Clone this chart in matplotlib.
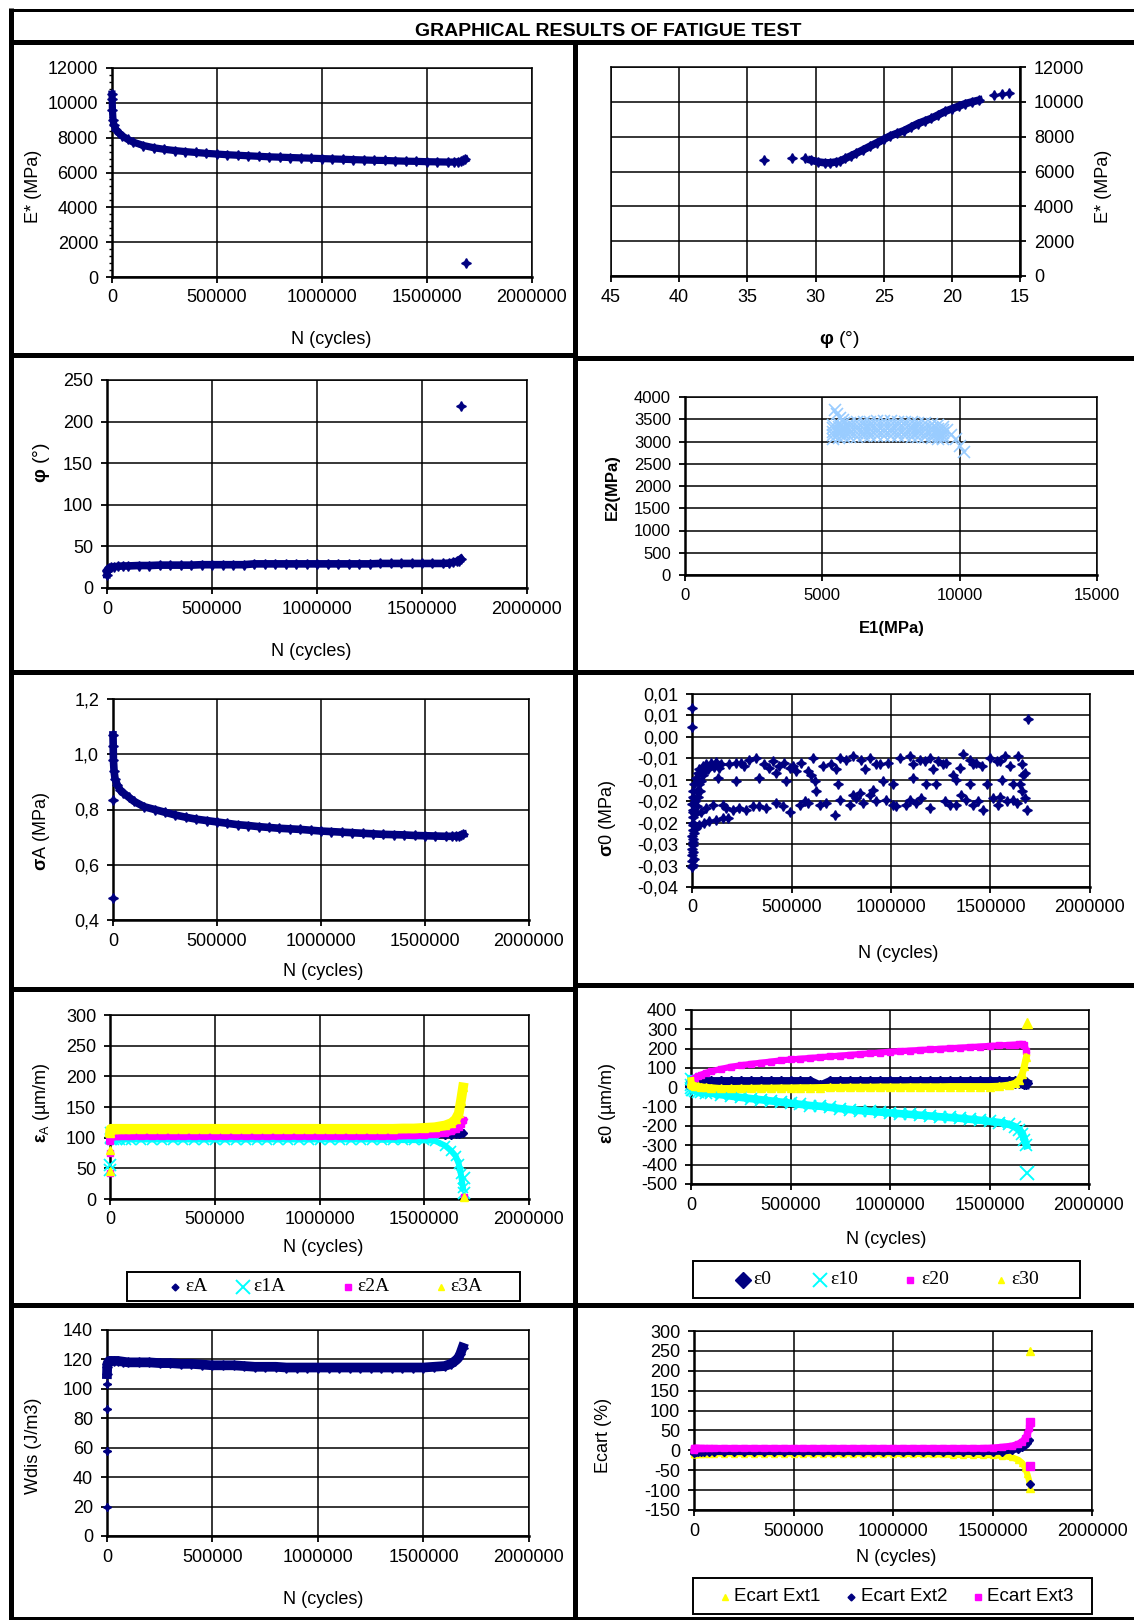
import matplotlib
matplotlib.use('Agg')
import matplotlib.pyplot as plt
from matplotlib.lines import Line2D
from matplotlib.patches import Rectangle
from matplotlib.ticker import AutoMinorLocator

plt.rcParams['font.family'] = ['Liberation Sans', 'DejaVu Sans']
plt.rcParams['mathtext.fontset'] = 'custom'
plt.rcParams['mathtext.rm'] = 'Liberation Sans'
plt.rcParams['mathtext.bf'] = 'Liberation Sans:bold'
plt.rcParams['mathtext.it'] = 'Liberation Sans:italic'
plt.rcParams['mathtext.sf'] = 'Liberation Sans'

# ------------------------------------------------------------------ data
title = "GRAPHICAL RESULTS OF FATIGUE TEST"

N_cycles = [0, 1000, 2000, 5000, 10000, 20000, 35000, 50000, 75000, 100000,
            150000, 200000, 250000, 300000, 350000, 400000, 450000, 500000, 550000, 600000,
            650000, 700000, 750000, 800000, 850000, 900000, 950000, 1000000, 1050000, 1100000,
            1150000, 1200000, 1250000, 1300000, 1350000, 1400000, 1450000, 1500000, 1550000, 1600000,
            1630000, 1650000, 1665000, 1675000, 1685000]

N_ticks = [0, 500000, 1000000, 1500000, 2000000]
N_tick_labels = ["0", "500000", "1000000", "1500000", "2000000"]

# panel 1 : E* vs N
E_star = [10500, 10200, 9600, 9000, 8700, 8450, 8250, 8100, 7900, 7750,
          7550, 7420, 7330, 7260, 7200, 7150, 7100, 7060, 7020, 6990,
          6960, 6930, 6900, 6880, 6860, 6840, 6820, 6800, 6780, 6760,
          6740, 6720, 6700, 6690, 6670, 6650, 6640, 6620, 6610, 6600,
          6600, 6620, 6650, 6700, 6750]
E_star_out_N = [1688000]
E_star_out = [800]
E_ticks = [0, 2000, 4000, 6000, 8000, 10000, 12000]

# panel 2 : E* vs phi
phi_band = [30.3, 29.8, 29.3, 28.9, 28.5, 28.2, 27.8, 27.4, 27.0, 26.5, 26.0, 25.5, 25.0, 24.5,
            24.0, 23.5, 23.0, 22.5, 22.0, 21.5, 21.0, 20.5, 20.0, 19.5, 19.0, 18.5, 18.0]
E_phi_band = [6650, 6550, 6500, 6500, 6550, 6600, 6750, 6900, 7050, 7250, 7450, 7650, 7850, 8050,
              8200, 8350, 8550, 8750, 8900, 9050, 9250, 9450, 9600, 9750, 9900, 10000, 10100]
phi_pts = [33.8, 31.7, 30.8, 16.9, 16.3, 15.8]
E_phi_pts = [6650, 6750, 6750, 10400, 10450, 10500]
phi_ticks = [45, 40, 35, 30, 25, 20, 15]

# panel 3 : phi vs N
phi_deg = [16, 20, 22, 23, 24, 25, 25.5, 26, 26.5, 26.5,
           27, 27, 27.5, 27.5, 27.5, 27.5, 28, 28, 28, 28,
           28, 29, 29, 29, 29, 29, 29, 29, 29, 29,
           29, 29, 29, 29.5, 29.5, 29.5, 29.5, 29.5, 29.5, 29.5,
           30, 31, 32, 33, 35]
phi_out_N = [1685000]
phi_out = [219]
phi_y_ticks = [0, 50, 100, 150, 200, 250]

# panel 4 : E2 vs E1
E1_grid = [5400, 5600, 5800, 6000, 6250, 6500, 6750, 7000, 7250, 7500, 7750, 8000, 8250, 8500, 8750, 9000, 9200, 9400]
E2_upper = [3380, 3400, 3410, 3420, 3430, 3440, 3440, 3450, 3450, 3450, 3440, 3440, 3430, 3420, 3410, 3390, 3370, 3330]
E2_mid_hi = [3300, 3320, 3330, 3340, 3350, 3360, 3360, 3370, 3370, 3370, 3360, 3360, 3350, 3340, 3330, 3310, 3290, 3260]
E2_mid = [3220, 3240, 3250, 3260, 3270, 3280, 3280, 3290, 3290, 3290, 3280, 3280, 3270, 3260, 3250, 3230, 3210, 3190]
E2_mid_lo = [3140, 3160, 3170, 3180, 3190, 3200, 3200, 3210, 3210, 3210, 3200, 3200, 3190, 3180, 3170, 3150, 3130, 3120]
E2_lower = [3060, 3080, 3090, 3100, 3110, 3120, 3120, 3130, 3130, 3130, 3120, 3120, 3110, 3100, 3090, 3070, 3060, 3050]
E1_edge = [5450, 5550, 5650, 5750, 9550, 9700, 9850, 10000, 10150]
E2_edge = [3700, 3620, 3520, 3480, 3250, 3150, 3050, 2900, 2770]
E1_ticks = [0, 5000, 10000, 15000]
E2_ticks = [0, 500, 1000, 1500, 2000, 2500, 3000, 3500, 4000]

# panel 5 : sigma A vs N
sigma_A = [1.07, 1.03, 0.98, 0.94, 0.91, 0.89, 0.87, 0.86, 0.845, 0.83,
           0.81, 0.80, 0.79, 0.78, 0.772, 0.765, 0.76, 0.755, 0.75, 0.745,
           0.742, 0.738, 0.735, 0.732, 0.73, 0.728, 0.725, 0.722, 0.72, 0.718,
           0.716, 0.714, 0.712, 0.71, 0.709, 0.708, 0.706, 0.705, 0.704, 0.703,
           0.703, 0.704, 0.705, 0.708, 0.71]
sigma_A_out_N = [0, 0]
sigma_A_out = [0.48, 0.835]
sA_ticks = [0.4, 0.6, 0.8, 1.0, 1.2]
sA_tick_labels = ["0,4", "0,6", "0,8", "1,0", "1,2"]

# panel 6 : sigma 0 vs N (scatter)
s0_out_N = [0, 0, 1690000]
s0_out = [0.0067, 0.0024, 0.0041]
s0_hook_N = [0, 1000, 2000, 1000, 3000, 2000, 4000, 3000, 5000, 4000, 2000, 5000, 3000,
             3000, 10000, 6700, 3000, 3000, 6700, 6700, 11700, 16800, 11700, 23500, 20100, 33600, 28500,
             36900, 45300, 53700, 70500, 95600, 120800, 146000, 129200, 20100, 36900, 62100, 87300,
             120800, 154400, 179500, 45300, 70500, 104000,
             8000, 15000, 25000, 30000, 40000, 55000, 65000, 80000, 110000, 135000]
s0_hook = [-0.0303, -0.0290, -0.0275, -0.0262, -0.0246, -0.0231, -0.0216, -0.0201, -0.0186, -0.0171, -0.0156, -0.0141, -0.0126,
           -0.0299, -0.0284, -0.0252, -0.0268, -0.0237, -0.0205, -0.0174, -0.0143, -0.0150, -0.0111, -0.0127, -0.0096, -0.0111, -0.0084,
           -0.0076, -0.0104, -0.0068, -0.0063, -0.0060, -0.0058, -0.0064, -0.0096, -0.0213, -0.0205, -0.0201, -0.0197,
           -0.0193, -0.0190, -0.0190, -0.0174, -0.0166, -0.0158,
           -0.0225, -0.0180, -0.0160, -0.0140, -0.0125, -0.0090, -0.0080, -0.0075, -0.0070, -0.0072]
s0_upper_N = [187900, 246700, 288600, 322200, 364100, 406000, 439600, 464800, 506700, 548700,
              582200, 607400, 657700, 699700, 741600, 775200, 808800, 850700, 892600, 943000,
              984900, 1043600, 1094000, 1144400, 1194700, 1236600, 1278600, 1312100, 1362500, 1396000,
              1429600, 1496700, 1547100, 1572200, 1639300, 1656100, 1672900,
              221500, 263400, 389300, 490000, 523500, 599000, 724900, 867500, 926200, 1110800,
              1169500, 1211400, 1261800, 1345700, 1412800, 1454800, 1530300, 1597400]
s0_upper = [-0.0064, -0.0060, -0.0053, -0.0049, -0.0064, -0.0057, -0.0068, -0.0060, -0.0068, -0.0060,
            -0.0080, -0.0049, -0.0068, -0.0064, -0.0049, -0.0053, -0.0045, -0.0053, -0.0049, -0.0064,
            -0.0060, -0.0049, -0.0045, -0.0053, -0.0049, -0.0057, -0.0060, -0.0088, -0.0041, -0.0053,
            -0.0060, -0.0049, -0.0057, -0.0045, -0.0045, -0.0064, -0.0084,
            -0.0060, -0.0068, -0.0072, -0.0072, -0.0080, -0.0088, -0.0076, -0.0076, -0.0064, -0.0064,
            -0.0057, -0.0076, -0.0064, -0.0072, -0.0064, -0.0068, -0.0057, -0.0068]
s0_mid_N = [221500, 338900, 422800, 473200, 615800, 624200, 733300, 808800, 842300, 909400,
            959800, 1010100, 1110800, 1177900, 1228200, 1328900, 1396000, 1479900, 1555400, 1614200,
            1647700, 1664500]
s0_mid = [-0.0104, -0.0096, -0.0084, -0.0104, -0.0104, -0.0127, -0.0111, -0.0135, -0.0131, -0.0123,
          -0.0104, -0.0111, -0.0096, -0.0111, -0.0111, -0.0100, -0.0111, -0.0111, -0.0100, -0.0111,
          -0.0111, -0.0088]
s0_lower_N = [154400, 204700, 238300, 271800, 305400, 372500, 422800, 490000, 540300, 582200,
              641000, 716500, 741600, 792000, 859100, 926200, 976500, 1026900, 1077200, 1127600,
              1194700, 1270200, 1328900, 1379200, 1412800, 1463200, 1513500, 1538700, 1580600, 1614200,
              1681300, 1672900,
              171100, 338900, 456400, 565500, 674500, 825600, 892600, 1010100, 1094000, 1152800,
              1295400, 1354100, 1438000, 1547100, 1630900, 1656100]
s0_lower = [-0.0158, -0.0170, -0.0166, -0.0170, -0.0162, -0.0166, -0.0154, -0.0174, -0.0158, -0.0154,
            -0.0158, -0.0182, -0.0147, -0.0158, -0.0154, -0.0150, -0.0147, -0.0162, -0.0158, -0.0154,
            -0.0166, -0.0150, -0.0158, -0.0147, -0.0158, -0.0170, -0.0143, -0.0158, -0.0150, -0.0147,
            -0.0170, -0.0143,
            -0.0166, -0.0162, -0.0162, -0.0150, -0.0154, -0.0143, -0.0135, -0.0158, -0.0147, -0.0143,
            -0.0158, -0.0135, -0.0150, -0.0139, -0.0154, -0.0127]
s0_ticks = [-0.035, -0.03, -0.025, -0.02, -0.015, -0.01, -0.005, 0.0, 0.005, 0.01]
s0_tick_labels = ["-0,04", "-0,03", "-0,03", "-0,02", "-0,02", "-0,01", "-0,01", "0,00", "0,01", "0,01"]

# panel 7 : strain amplitudes
eps_A = [100, 102, 103, 103, 103, 103, 103, 103, 103, 103,
         103, 103, 103, 103, 103, 103, 103, 103, 103, 103,
         103, 103, 103, 103, 103, 103, 103, 103, 103, 103,
         103, 103, 103, 103, 103, 103, 103, 103.5, 104, 104,
         105, 106, 106, 107, 108]
eps_1A = [110, 100, 98, 97.5, 97, 97, 97, 97, 97, 97,
          97, 97, 97, 97, 97, 97, 97, 97, 97, 97,
          97, 97, 97, 97, 97, 97, 97, 97, 97, 97,
          97, 97, 97, 96.5, 96.5, 96, 96, 95.5, 95, 87,
          78, 70, 57, 40, 18]
eps_2A = [95, 101, 103, 103, 103, 103, 103, 103, 103, 103,
          103, 103, 103, 103, 103, 103, 103, 103, 103, 103,
          103, 103, 103, 103, 103, 103, 103, 103, 103, 103,
          103, 103, 103, 103, 103, 104, 104, 105, 106, 108,
          111, 114, 118, 122, 128]
eps_3A = [108, 112, 114, 114.5, 114.5, 114.5, 114.5, 114.5, 114.5, 114.5,
          114.5, 114.5, 114.5, 114.5, 114.5, 114.5, 114.5, 114.5, 114.5, 114.5,
          114.5, 114.5, 114.5, 114.5, 114.5, 114.5, 114.5, 114.5, 114.5, 114.5,
          114.5, 114.5, 114.5, 114.5, 114.5, 115, 115, 116, 117, 120,
          124, 130, 140, 160, 182]
eps_1A_out_N = [0, 0, 1688000, 1690000]
eps_1A_out = [55, 47, 35, 10]
eps_2A_out_N = [0, 0, 1690000]
eps_2A_out = [75, 42, 3]
eps_3A_out_N = [0, 0, 1690000]
eps_3A_out = [80, 45, 3]
epsA_ticks = [0, 50, 100, 150, 200, 250, 300]
legend7_labels = ["εA", "ε1A", "ε2A", "ε3A"]

# panel 8 : mean strains
eps_0 = [10, 20, 25, 28, 28, 28, 28, 28, 28, 28,
         28, 28, 28, 28, 28, 28, 28, 28, 28, 28,
         5, 28, 28, 28, 28, 28, 28, 28, 28, 28,
         28, 28, 28, 28, 28, 28, 28, 28, 28, 28,
         28, 28, 26, 24, 20]
eps_10 = [45, 10, -5, -12, -15, -18, -22, -25, -28, -30,
          -38, -45, -52, -58, -64, -70, -76, -82, -88, -94,
          -98, -104, -110, -115, -120, -124, -128, -132, -136, -140,
          -144, -148, -152, -156, -160, -165, -170, -176, -182, -192,
          -205, -220, -240, -270, -300]
eps_20 = [10, 20, 28, 35, 42, 50, 58, 65, 75, 82,
          95, 106, 114, 121, 127, 133, 139, 144, 148, 152,
          156, 160, 164, 168, 172, 176, 180, 184, 187, 190,
          193, 196, 199, 202, 205, 208, 211, 214, 217, 219,
          221, 222, 223, 221, 190]
eps_30 = [35, 25, 20, 15, 10, 8, 5, 3, 0, -2,
          -6, -6, -5, -5, -4, -4, -3, -3, -2, -2,
          -1, 0, 0, 1, 1, 1, 2, 2, 2, 3,
          3, 3, 3, 4, 4, 4, 4, 4, 6, 12,
          22, 40, 70, 110, 155]
eps_10_out_N = [1688000]
eps_10_out = [-445]
eps_30_out_N = [1688000]
eps_30_out = [335]
eps0_ticks = [-500, -400, -300, -200, -100, 0, 100, 200, 300, 400]
legend8_labels = ["ε0", "ε10", "ε20", "ε30"]

# panel 9 : dissipated energy
W_dis = [110, 115, 117, 118, 119, 119, 119, 119, 118.5, 118,
         118, 118, 117.5, 117.5, 117, 117, 116.5, 116, 116, 116,
         115.5, 115, 115, 115, 114.5, 114.5, 114.5, 114.5, 114.5, 114.5,
         114.5, 114.5, 114.5, 114.5, 114.5, 114.5, 114.5, 114.5, 115, 115.5,
         117, 119, 121, 124, 128]
W_out_N = [0, 0, 0, 0]
W_out = [20, 58, 86, 103]
W_ticks = [0, 20, 40, 60, 80, 100, 120, 140]

# panel 10 : Ecart
ecart_1 = [-8, -8, -8, -8, -8, -8, -8, -8, -8, -8,
           -8, -8, -8, -8, -8, -8, -8, -8, -8, -8,
           -8, -8, -8, -8, -8, -8, -8, -8, -9, -9,
           -9, -10, -10, -11, -11, -11, -12, -12, -14, -18,
           -24, -32, -45, -60, -78]
ecart_2 = [-6, -4, -4, -4, -4, -4, -4, -4, -4, -4,
           -4, -4, -4, -4, -4, -4, -4, -4, -4, -4,
           -4, -4, -4, -4, -4, -4, -4, -4, -4, -4,
           -4, -4, -4, -4, -4, -4, -4, -4, -3, 0,
           4, 8, 13, 18, 25]
ecart_3 = [0, 4, 5, 5, 5, 5, 5, 5, 5, 5,
           5, 5, 5, 5, 5, 5, 5, 5, 5, 5,
           5, 5, 5, 5, 5, 5, 5, 5, 5, 5,
           5, 5, 5, 5, 5, 5, 5, 6, 8, 11,
           16, 22, 30, 40, 55]
ecart_1_out_N = [1688000, 1690000]
ecart_1_out = [-95, 250]
ecart_2_out_N = [1688000]
ecart_2_out = [-85]
ecart_3_out_N = [1688000, 1688000]
ecart_3_out = [70, -40]
ecart_ticks = [-150, -100, -50, 0, 50, 100, 150, 200, 250, 300]
legend10_labels = ["Ecart Ext1", "Ecart Ext2", "Ecart Ext3"]

# ------------------------------------------------------------------ styling
NAVY = '#000080'
CYAN = '#00FFFF'
MAGENTA = '#FF00FF'
YELLOW = '#FFFF00'
LIGHTBLUE = '#99CCFF'
STAR = (4, 1, 0)

W, H = 1134, 1620
fig = plt.figure(figsize=(W / 100, H / 100), dpi=100)
fig.patch.set_facecolor('white')


def add_ax(l, t, r, b):
    return fig.add_axes([l / W, 1 - b / H, (r - l) / W, (b - t) / H])


def style(ax, xlim, xt, xl, ylim, yt, yl, size=13, right=False):
    ax.set_xlim(*xlim)
    ax.set_ylim(*ylim)
    ax.set_xticks(xt, labels=xl)
    ax.set_yticks(yt, labels=yl)
    ax.grid(True, which='major', color='black', lw=1.1)
    ax.set_axisbelow(True)
    for k, s in ax.spines.items():
        s.set_color('black')
        s.set_linewidth(1.1)
    ax.spines['bottom'].set_linewidth(1.8)
    if right:
        ax.yaxis.tick_right()
        ax.spines['right'].set_linewidth(1.8)
    else:
        ax.spines['left'].set_linewidth(1.8)
    ax.tick_params(which='major', direction='out', length=4, width=1.3,
                   labelsize=size, colors='black')
    ax.tick_params(axis='x', pad=5)
    ax.tick_params(axis='y', pad=6)


def band(ax, x, y, color, lw, marker, ms, z, mew=1.0):
    ax.plot(x, y, color=color, lw=lw, marker=marker, ms=ms, mfc=color, mec=color,
            mew=mew, zorder=z, clip_on=False, solid_joinstyle='round')


def pts(ax, x, y, color, marker, ms, z, mew=1.0):
    ax.plot(x, y, ls='none', marker=marker, ms=ms, mfc=color, mec=color,
            mew=mew, zorder=z, clip_on=False)


def ftext(x, y, s, size=13, rot=0, **kw):
    fig.text(x / W, 1 - y / H, s, ha='center', va='center', fontsize=size,
             rotation=rot, **kw)


def fline(x0, y0, x1, y1, px):
    fig.add_artist(Line2D([x0 / W, x1 / W], [1 - y0 / H, 1 - y1 / H],
                          transform=fig.transFigure, color='black', lw=px * 0.72,
                          solid_capstyle='butt'))


def legend_box(x0, y0, x1, y1, yc, items, family, size):
    fig.add_artist(Rectangle((x0 / W, 1 - y1 / H), (x1 - x0) / W, (y1 - y0) / H,
                             transform=fig.transFigure, fill=False, ec='black', lw=1.4))
    for mx, tx, lab, color, marker, ms, mew in items:
        fig.add_artist(Line2D([mx / W], [1 - yc / H], ls='none', marker=marker, ms=ms,
                              mfc=color, mec=color, mew=mew, transform=fig.transFigure))
        fig.text(tx / W, 1 - yc / H, lab, ha='left', va='center', fontsize=size, family=family)


Nlim = (0, 2000000)

# ---------------- panel 1
ax1 = add_ax(112, 68, 531.5, 277)
style(ax1, Nlim, N_ticks, N_tick_labels, (0, 12000), E_ticks, [str(v) for v in E_ticks])
ax1.yaxis.set_minor_locator(AutoMinorLocator(5))
ax1.tick_params(axis='y', which='minor', direction='out', length=2.5, width=1.0)
band(ax1, N_cycles, E_star, NAVY, 5.2, STAR, 7, 3)
pts(ax1, E_star_out_N, E_star_out, NAVY, STAR, 7, 3)
ftext(34, 186, 'E* (MPa)', rot=90)
ftext(331, 339, 'N (cycles)')

# ---------------- panel 2
ax2 = add_ax(611, 67, 1020, 276)
style(ax2, (45, 15), phi_ticks, [str(v) for v in phi_ticks], (0, 12000), E_ticks,
      [str(v) for v in E_ticks], right=True)
band(ax2, phi_band, E_phi_band, NAVY, 5.5, STAR, 7, 3)
pts(ax2, phi_pts, E_phi_pts, NAVY, STAR, 7, 3)
ftext(1103, 186, 'E* (MPa)', rot=90)
ftext(839, 340, r'$\mathbf{φ}$ (°)', size=14)

# ---------------- panel 3
ax3 = add_ax(107, 380, 527, 588)
style(ax3, Nlim, N_ticks, N_tick_labels, (0, 250), phi_y_ticks, [str(v) for v in phi_y_ticks])
band(ax3, N_cycles, phi_deg, NAVY, 5.5, STAR, 7, 3)
pts(ax3, phi_out_N, phi_out, NAVY, STAR, 7, 3)
ftext(41, 463, r'$\mathbf{φ}$ (°)', size=14, rot=90)
ftext(311, 651, 'N (cycles)')

# ---------------- panel 4
ax4 = add_ax(685, 397, 1097, 575)
style(ax4, (0, 15000), E1_ticks, [str(v) for v in E1_ticks], (0, 4000), E2_ticks,
      [str(v) for v in E2_ticks], size=12)
for row in (E2_lower, E2_mid_lo, E2_mid, E2_mid_hi, E2_upper):
    pts(ax4, E1_grid, row, LIGHTBLUE, 'x', 8, 3, mew=1.2)
pts(ax4, E1_edge, E2_edge, LIGHTBLUE, 'x', 9, 3, mew=1.2)
ftext(612, 487, 'E2(MPa)', size=12, rot=90, weight='bold')
ftext(892, 628, 'E1(MPa)', size=12, weight='bold')

# ---------------- panel 5
ax5 = add_ax(113, 699, 529, 920)
style(ax5, Nlim, N_ticks, N_tick_labels, (0.4, 1.2), sA_ticks, sA_tick_labels)
band(ax5, N_cycles, sigma_A, NAVY, 5.5, STAR, 7, 3)
pts(ax5, sigma_A_out_N, sigma_A_out, NAVY, STAR, 7, 3)
ftext(41, 831, r'$\mathbf{σ}$A (MPa)', rot=90)
ftext(323, 972, 'N (cycles)')

# ---------------- panel 6
ax6 = add_ax(692, 694, 1090, 887)
style(ax6, Nlim, N_ticks, N_tick_labels, (-0.035, 0.01), s0_ticks, s0_tick_labels)
for xs, ys in ((s0_hook_N, s0_hook), (s0_upper_N, s0_upper), (s0_mid_N, s0_mid),
               (s0_lower_N, s0_lower), (s0_out_N, s0_out)):
    pts(ax6, xs, ys, NAVY, STAR, 7, 3)
ftext(607, 818, r'$\mathbf{σ}$0 (MPa)', rot=90)
ftext(898, 954, 'N (cycles)')

# ---------------- panel 7
ax7 = add_ax(110, 1015, 529, 1199)
style(ax7, Nlim, N_ticks, N_tick_labels, (0, 300), epsA_ticks, [str(v) for v in epsA_ticks])
band(ax7, N_cycles, eps_A, NAVY, 4.0, 'D', 4, 3)
band(ax7, N_cycles, eps_1A, CYAN, 4.3, 'x', 7, 4, mew=1.2)
pts(ax7, eps_1A_out_N, eps_1A_out, CYAN, 'x', 9, 4, mew=1.3)
band(ax7, N_cycles, eps_2A, MAGENTA, 5.8, 's', 5, 5)
pts(ax7, eps_2A_out_N, eps_2A_out, MAGENTA, 's', 5, 5)
band(ax7, N_cycles, eps_3A, YELLOW, 7.0, '^', 6, 6)
pts(ax7, eps_3A_out_N, eps_3A_out, YELLOW, '^', 6, 6)
ftext(41, 1103, r'$\mathbf{ε}_{\mathrm{A}}$ (µm/m)', rot=90)
ftext(323, 1248, 'N (cycles)')
legend_box(127, 1272, 520, 1301, 1286.5, [
    (175, 185, legend7_labels[0], NAVY, 'D', 3.5, 1),
    (243, 253, legend7_labels[1], CYAN, 'x', 10, 1.4),
    (348, 357, legend7_labels[2], MAGENTA, 's', 5, 1),
    (441, 450, legend7_labels[3], YELLOW, '^', 5, 1)], 'Liberation Serif', 14)

# ---------------- panel 8
ax8 = add_ax(691, 1010, 1089, 1184)
style(ax8, Nlim, N_ticks, N_tick_labels, (-500, 400), eps0_ticks, [str(v) for v in eps0_ticks])
band(ax8, N_cycles, eps_0, NAVY, 7.0, 'D', 6, 3)
band(ax8, N_cycles, eps_10, CYAN, 5.5, 'x', 8, 4, mew=1.2)
pts(ax8, eps_10_out_N, eps_10_out, CYAN, 'x', 10, 4, mew=1.4)
band(ax8, N_cycles, eps_20, MAGENTA, 4.5, 's', 5, 5)
band(ax8, N_cycles, eps_30, YELLOW, 5.0, '^', 6, 6)
pts(ax8, eps_30_out_N, eps_30_out, YELLOW, '^', 7, 6)
ftext(607, 1103, r'$\mathbf{ε}$0 (µm/m)', rot=90)
ftext(886, 1239, 'N (cycles)')
legend_box(693, 1261, 1080, 1298, 1280, [
    (743, 753, legend8_labels[0], NAVY, 'D', 8, 1),
    (820, 830, legend8_labels[1], CYAN, 'x', 10, 1.4),
    (910, 921, legend8_labels[2], MAGENTA, 's', 5, 1),
    (1001, 1011, legend8_labels[3], YELLOW, '^', 5, 1)], 'Liberation Serif', 14)

# ---------------- panel 9
ax9 = add_ax(107, 1330, 529, 1536)
style(ax9, Nlim, N_ticks, N_tick_labels, (0, 140), W_ticks, [str(v) for v in W_ticks])
band(ax9, N_cycles, W_dis, NAVY, 7.0, STAR, 7, 3)
pts(ax9, W_out_N, W_out, NAVY, STAR, 6, 3)
ftext(33, 1446, 'Wdis (J/m3)', rot=90)
ftext(323, 1600, 'N (cycles)')

# ---------------- panel 10
ax10 = add_ax(694, 1331, 1092, 1510)
style(ax10, Nlim, N_ticks, N_tick_labels, (-150, 300), ecart_ticks, [str(v) for v in ecart_ticks])
band(ax10, N_cycles, ecart_1, YELLOW, 4.5, '^', 5, 3)
pts(ax10, ecart_1_out_N, ecart_1_out, YELLOW, '^', 6, 3)
band(ax10, N_cycles, ecart_2, NAVY, 4.5, 'D', 4, 4)
pts(ax10, ecart_2_out_N, ecart_2_out, NAVY, 'D', 4.5, 4)
band(ax10, N_cycles, ecart_3, MAGENTA, 5.0, 's', 5, 5)
pts(ax10, ecart_3_out_N, ecart_3_out, MAGENTA, 's', 5.5, 5)
ftext(603, 1435, 'Ecart (%)', rot=90)
ftext(896, 1557, 'N (cycles)')
legend_box(693, 1578, 1092, 1614, 1596.5, [
    (724.5, 734, legend10_labels[0], YELLOW, '^', 5, 1),
    (851, 860.5, legend10_labels[1], NAVY, 'D', 3.5, 1),
    (977.5, 987, legend10_labels[2], MAGENTA, 's', 5, 1)], 'Liberation Sans', 13.5)

# ---------------- frame and title
ftext(608, 31, title, size=14, weight='bold')
fline(9, 10, 1134, 10, 3)
fline(11, 8, 11, 1620, 5)
fline(9, 42, 1134, 42, 5)
fline(575, 40, 575, 1620, 5)
fline(9, 355, 575, 355, 5)
fline(575, 358, 1134, 358, 5)
fline(9, 672, 1134, 672, 5)
fline(9, 989, 575, 989, 5)
fline(575, 985, 1134, 985, 5)
fline(9, 1305, 1134, 1305, 5)
fline(9, 1618, 1134, 1618, 3)

fig.savefig('out.png', dpi=100, facecolor='white')
